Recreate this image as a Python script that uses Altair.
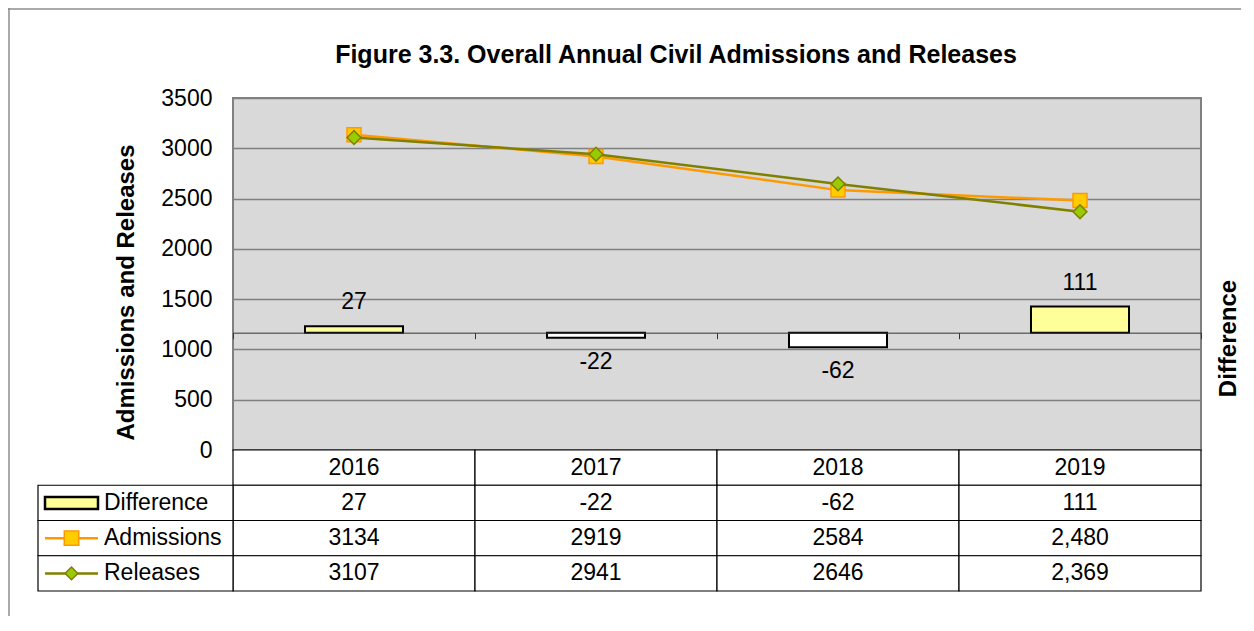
import altair as alt
import pandas as pd

# ---------------- data ----------------
years = ["2016", "2017", "2018", "2019"]
admissions = [3134, 2919, 2584, 2480]
releases = [3107, 2941, 2646, 2369]
difference = [27, -22, -62, 111]
difference_text = ["27", "-22", "-62", "111"]
admissions_text = ["3134", "2919", "2584", "2,480"]
releases_text = ["3107", "2941", "2646", "2,369"]
row_names = ["Difference", "Admissions", "Releases"]
left_ticks = [0, 500, 1000, 1500, 2000, 2500, 3000, 3500]
title_text = "Figure 3.3. Overall Annual Civil Admissions and Releases"
left_title = "Admissions and Releases"
right_title = "Difference"

# ---------------- layout / style ----------------
FONT = "Liberation Sans"
FS = 23
W, H = 968, 352
TABLE_H = 141
PAD_BOTTOM = 166
ORANGE, GOLD = "#FF9900", "#FFCC00"
OLIVE, LIME = "#808000", "#99CC00"
PALE = "#FFFF99"

lines_df = pd.DataFrame({
    "Year": years * 2,
    "Series": ["Admissions"] * 4 + ["Releases"] * 4,
    "Value": admissions + releases,
})
diff_df = pd.DataFrame({
    "Year": years,
    "Difference": difference,
    "Label": difference_text,
    "Sign": ["pos" if d >= 0 else "neg" for d in difference],
})
table_rows = ["header"] + row_names
table_df = pd.DataFrame({
    "Year": years * 4,
    "Row": sum([[r] * 4 for r in table_rows], []),
    "Text": years + difference_text + admissions_text + releases_text,
})
label_df = pd.DataFrame({"Row": row_names})
one = pd.DataFrame({"a": [0]})

x_scale = alt.Scale(domain=years, paddingInner=0, paddingOuter=0)
x_axis = alt.Axis(orient="bottom", offset=-(H - H * 1000 / 1500), labels=False,
                  title=None, tickBand="extent", domainColor="#333333",
                  tickColor="#333333", domainWidth=1, tickWidth=1, tickSize=6,
                  grid=False)


def xenc(center=False):
    if center:
        return alt.X("Year:N", scale=x_scale, axis=x_axis, bandPosition=0.5)
    return alt.X("Year:N", scale=x_scale, axis=x_axis)


# ---------- admissions / releases (left axis) ----------
left_scale = alt.Scale(domain=[0, 3500], nice=False)
left_axis = alt.Axis(orient="left", values=left_ticks, format="d", grid=True,
                     gridColor="#808080", gridWidth=1.5, domain=False, ticks=False,
                     labelPadding=21, labelFont=FONT, labelFontSize=FS,
                     labelColor="black", title=left_title, titleFont=FONT,
                     titleFontSize=24, titleFontWeight="bold", titleColor="black",
                     titlePadding=22, titleY=194, titleAngle=270)
yl = alt.Y("Value:Q", scale=left_scale, axis=left_axis)

base_l = alt.Chart(lines_df)
line_adm = base_l.transform_filter("datum.Series == 'Admissions'").mark_line(
    color=ORANGE, strokeWidth=2.5).encode(x=xenc(True), y=yl)
line_rel = base_l.transform_filter("datum.Series == 'Releases'").mark_line(
    color=OLIVE, strokeWidth=2.5).encode(x=xenc(True), y=yl)
pt_adm = base_l.transform_filter("datum.Series == 'Admissions'").mark_point(
    shape="square", size=196, filled=True, fill=GOLD, stroke=ORANGE,
    strokeWidth=1.5, opacity=1).encode(x=xenc(True), y=yl)
pt_rel = base_l.transform_filter("datum.Series == 'Releases'").mark_point(
    shape="diamond", size=190, filled=True, fill=LIME, stroke=OLIVE,
    strokeWidth=1.5, opacity=1).encode(x=xenc(True), y=yl)
lines_layer = alt.layer(line_adm, pt_adm, line_rel, pt_rel)

# ---------- difference bars (right axis) ----------
diff_scale = alt.Scale(domain=[-500, 1000], nice=False)
diff_axis = alt.Axis(orient="right", labels=False, ticks=False, domain=False,
                     grid=False, title=right_title, titleFont=FONT,
                     titleFontSize=24, titleFontWeight="bold", titleColor="black",
                     titleAngle=270, titleBaseline="top", titlePadding=15,
                     titleY=240)
yd = alt.Y("Difference:Q", scale=diff_scale, axis=diff_axis)
base_d = alt.Chart(diff_df)
bars = base_d.mark_bar(width={"band": 0.405}, stroke="black", strokeWidth=2).encode(
    x=xenc(), y=yd,
    fill=alt.Fill("Sign:N", scale=alt.Scale(domain=["pos", "neg"], range=[PALE, "#FFFFFF"]),
                  legend=None))
lab_pos = base_d.transform_filter("datum.Difference >= 0").mark_text(
    dy=-24, font=FONT, fontSize=FS, color="black").encode(x=xenc(True), y=yd, text="Label:N")
lab_neg = base_d.transform_filter("datum.Difference < 0").mark_text(
    dy=24, font=FONT, fontSize=FS, color="black").encode(x=xenc(True), y=yd, text="Label:N")
bars_layer = alt.layer(bars, lab_pos, lab_neg)

# ---------- data table ----------
row_scale = alt.Scale(domain=table_rows, range=[H, H + TABLE_H], paddingInner=0, paddingOuter=0)
yt = alt.Y("Row:N", scale=row_scale, axis=None)
ytc = alt.Y("Row:N", scale=row_scale, axis=None, bandPosition=0.5)

cells = alt.Chart(table_df).mark_rect(fill="white", stroke="black", strokeWidth=1.2).encode(
    x=xenc(), y=yt)
cell_text = alt.Chart(table_df).mark_text(font=FONT, fontSize=FS, color="black").encode(
    x=xenc(True), y=ytc, text="Text:N")
label_cells = alt.Chart(label_df).mark_rect(fill="white", stroke="black", strokeWidth=1.2).encode(
    x=alt.value(-195), x2=alt.value(0), y=yt)
label_text = alt.Chart(label_df).mark_text(font=FONT, fontSize=FS, color="black", align="left").encode(
    x=alt.value(-129), y=ytc, text="Row:N")

sym_diff = alt.Chart(label_df).transform_filter("datum.Row == 'Difference'").mark_bar(
    size=12, fill=PALE, stroke="black", strokeWidth=2.5).encode(
    x=alt.value(-188), x2=alt.value(-135), y=yt)
sym_adm_line = alt.Chart(label_df).transform_filter("datum.Row == 'Admissions'").mark_rule(
    color=ORANGE, strokeWidth=2.5).encode(x=alt.value(-188), x2=alt.value(-135), y=ytc)
sym_adm_pt = alt.Chart(label_df).transform_filter("datum.Row == 'Admissions'").mark_point(
    shape="square", size=210, filled=True, fill=GOLD, stroke=ORANGE, strokeWidth=1.5,
    opacity=1).encode(x=alt.value(-161.5), y=ytc)
sym_rel_line = alt.Chart(label_df).transform_filter("datum.Row == 'Releases'").mark_rule(
    color=OLIVE, strokeWidth=2.5).encode(x=alt.value(-188), x2=alt.value(-135), y=ytc)
sym_rel_pt = alt.Chart(label_df).transform_filter("datum.Row == 'Releases'").mark_point(
    shape="diamond", size=160, filled=True, fill=LIME, stroke=OLIVE, strokeWidth=1.5,
    opacity=1).encode(x=alt.value(-161.5), y=ytc)

table_layer = alt.layer(cells, cell_text, label_cells, label_text,
                        sym_diff, sym_adm_line, sym_adm_pt, sym_rel_line, sym_rel_pt)

# ---------- outer frame (left and top edges) ----------
frame_left = alt.Chart(one).mark_rule(color="#8C8C8C", strokeWidth=1.5).encode(
    x=alt.value(-224), y=alt.value(-90), y2=alt.value(H + PAD_BOTTOM))
frame_top = alt.Chart(one).mark_rule(color="#8C8C8C", strokeWidth=1.5).encode(
    x=alt.value(-225), x2=alt.value(W + 40), y=alt.value(-89))

chart = alt.layer(frame_left, frame_top, table_layer, bars_layer, lines_layer).resolve_scale(
    y="independent"
).properties(
    width=W, height=H,
    background="white",
    autosize=alt.AutoSizeParams(type="none"),
    padding={"left": 225, "top": 90, "right": 40, "bottom": PAD_BOTTOM},
    title=alt.TitleParams(text=title_text, font=FONT, fontSize=25, fontWeight="bold",
                          color="black", anchor="middle", frame="group", dx=-41,
                          offset=-86, baseline="bottom"),
).configure_view(
    fill="#D9D9D9", stroke="#808080", strokeWidth=2
)

chart.save("out.html", embed_options={"renderer": "svg", "actions": False})
